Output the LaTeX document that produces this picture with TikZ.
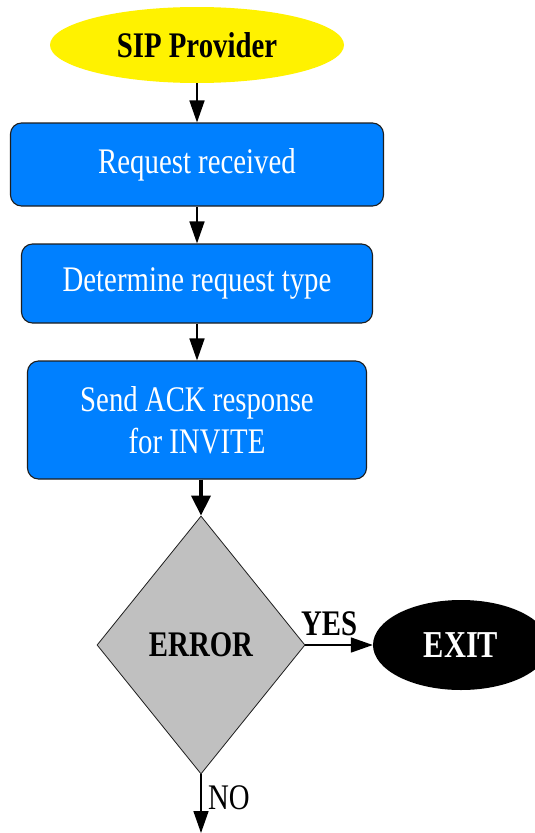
\documentclass[tikz,border=0pt]{standalone}
\usepackage{fontspec}
\usetikzlibrary{shapes.geometric,arrows.meta}
\newfontfamily\chartfont[FakeStretch=0.8]{Liberation Serif}
\definecolor{stepblue}{RGB}{0,128,255}
\definecolor{decgray}{RGB}{192,192,192}
\definecolor{edgegray}{RGB}{30,30,30}
\tikzset{
  chart/.style={font=\chartfont\fontsize{36}{42}\selectfont},
  stepbox/.style={chart, rectangle, rounded corners=11pt, draw=edgegray, line width=1.1pt,
    fill=stepblue, text=white, align=center, inner sep=0pt},
  flow/.style={line width=1.6pt, -{Triangle[length=22pt,width=15pt]}},
  flowthick/.style={line width=3.5pt, -{Triangle[length=20pt,width=19pt]}},
}
\begin{document}
\begin{tikzpicture}[x=1pt,y=-1pt]
  \useasboundingbox (0,0) rectangle (535,833);
  \clip (0,0) rectangle (535,833);
  \fill[white] (0,0) rectangle (535,833);

  % start terminal
  \node[chart, ellipse, fill=yellow, inner sep=0pt, minimum width=294pt, minimum height=76pt,
        font=\chartfont\bfseries\fontsize{36}{42}\selectfont] (start) at (197,45) {SIP Provider};

  % processing steps
  \node[stepbox, minimum width=373pt, minimum height=83pt] (recv) at (197,164.5) {Request received};
  \node[stepbox, minimum width=351pt, minimum height=79pt] (kind) at (197,283.5) {Determine request type};
  \node[stepbox, minimum width=339pt, minimum height=118pt] (ack) at (197,420) {Send ACK response\\for INVITE};

  % decision
  \node[chart, diamond, fill=decgray, draw=edgegray, line width=0.8pt, inner sep=0pt,
        minimum width=208pt, minimum height=258pt,
        font=\chartfont\bfseries\fontsize{36}{42}\selectfont] (err) at (201,645) {ERROR};

  % exit terminal
  \node[chart, ellipse, fill=black, text=white, inner sep=0pt, minimum width=176pt, minimum height=90pt,
        font=\chartfont\bfseries\fontsize{38}{42}\selectfont] (exit) at (461,645) {EXIT};

  \coordinate (cont) at (201,833);

  % connectors
  \draw[flow] (start.south) -- (recv.north);
  \draw[flow] (recv.south) -- (kind.north);
  \draw[flow] (kind.south) -- (ack.north);
  \draw[flowthick] (ack.south -| err.north) -- (err.north);
  \draw[flow] (err.east) -- (exit.west);
  \draw[flow] (err.south) -- (cont);

  % branch labels
  \node[chart, anchor=base west, inner sep=0pt, font=\chartfont\bfseries\fontsize{36}{42}\selectfont]
    (yes) at (301,635) {YES};
  \node[chart, anchor=base west, inner sep=0pt] (no) at (208,809) {NO};
\end{tikzpicture}
\end{document}
